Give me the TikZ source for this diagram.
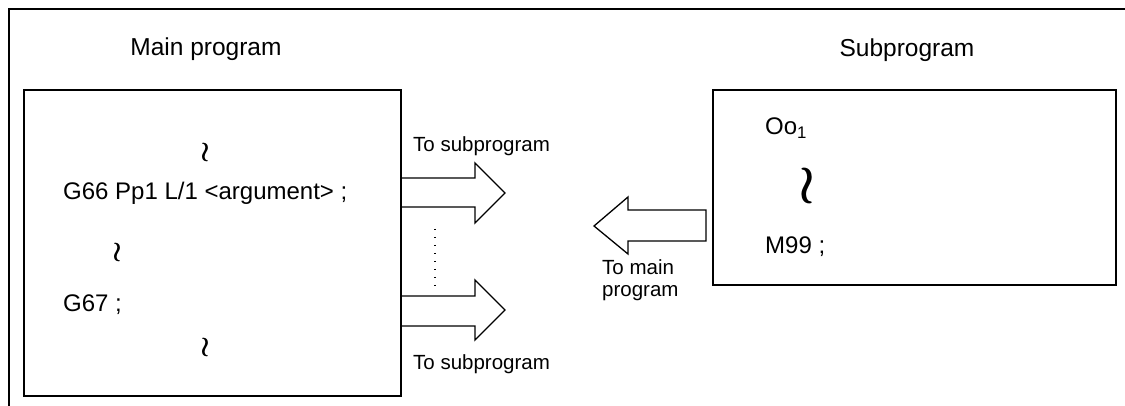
\documentclass[tikz,border=0pt]{standalone}
\usepackage{fontspec}
\usepackage{graphicx}
\setmainfont{Liberation Sans}
\newcommand{\smallwave}{\scalebox{1.5}[1.35]{\boldmath$\wr$}}
\newcommand{\largewave}{\scalebox{2.6}[2.6]{\boldmath$\wr$}}
\begin{document}
\begin{tikzpicture}[x=1pt,y=-1pt,
  box/.style={draw, line width=1.6pt, inner sep=0pt, anchor=north west},
  big/.style={font=\fontsize{24}{28}\selectfont, inner sep=0pt, anchor=base west},
  title/.style={font=\fontsize{24.5}{28}\selectfont, inner sep=0pt, anchor=base},
  small/.style={font=\fontsize{20.5}{22}\selectfont, inner sep=0pt, anchor=base west},
  wave/.style={font=\fontsize{20}{22}\selectfont, inner sep=0pt},
  blockarrow/.style={draw, line width=1.3pt, line join=miter, fill=white}]
\useasboundingbox (0,0) rectangle (1125,406);
% outer frame
\draw[line width=2.5pt] (9,406) -- (9,9) -- (1125,9);
% block arrows (drawn first, so box borders stay on top)
\draw[blockarrow] (400,178) -- (475,178) -- (475,163) -- (505,193) -- (475,223) -- (475,207) -- (400,207);
\draw[blockarrow] (400,296) -- (475,296) -- (475,280) -- (505,310) -- (475,340) -- (475,326) -- (400,326);
\draw[blockarrow] (706,210) -- (628,210) -- (628,197) -- (594,226) -- (628,254) -- (628,241) -- (706,241) -- cycle;
% titles
\node[title] (tmain) at (206,56) {Main program};
\node[title] (tsub) at (907,57) {Subprogram};
% boxes
\node[box, minimum width=377pt, minimum height=306pt] (main) at (23,89) {};
\node[box, minimum width=403pt, minimum height=195pt] (sub) at (712,89) {};
% main program text
\node[wave] (w1) at (205,153) {\smallwave};
\node[big] (g66) at (63,200) {G66 Pp1 L/1 <argument> ;};
\node[wave] (w2) at (117,253) {\smallwave};
\node[big] (g67) at (63,312) {G67 ;};
\node[wave] (w3) at (205,347) {\smallwave};
% subprogram text
\node[big] (oo) at (765,135) {Oo\textsubscript{1}};
\node[wave] (w4) at (807,186) {\largewave};
\node[big] (m99) at (765,254) {M99 ;};
% dots
\draw[line width=1.3pt, dash pattern=on 1.3pt off 6.7pt] (435,229) -- (435,289);
% labels
\node[small] (l1) at (413,152) {To subprogram};
\node[small] (l2) at (413,369) {To subprogram};
\node[small, anchor=north west, align=left, font=\fontsize{20.5}{22.5}\selectfont] (l3) at (602,259) {To main\\program};
\end{tikzpicture}
\end{document}
